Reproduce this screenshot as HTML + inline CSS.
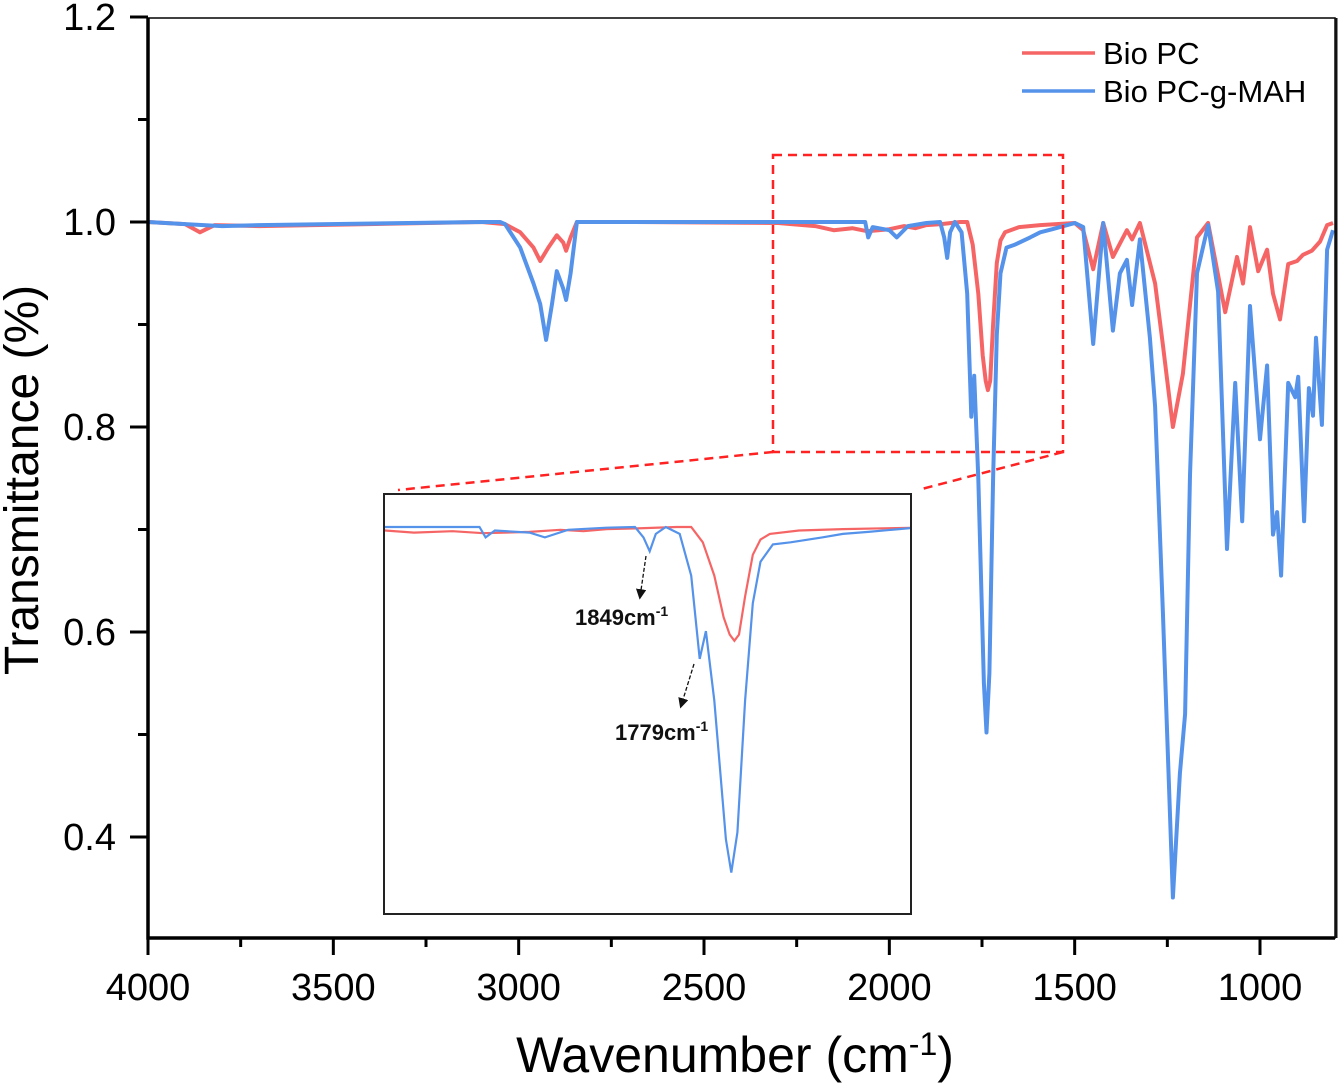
<!DOCTYPE html>
<html><head><meta charset="utf-8"><style>
html,body{margin:0;padding:0;background:#fff;}
svg{display:block;font-family:"Liberation Sans",Arial,sans-serif;}
</style></head><body>
<svg id="chart" width="1339" height="1084" viewBox="0 0 1339 1084">
<g id="grid"></g>
</svg>
<script>
// ---- data ----
const xTicks = [4000, 3500, 3000, 2500, 2000, 1500, 1000];
const yTicks = [0.4, 0.6, 0.8, 1.0, 1.2];
const seriesNames = ["Bio PC", "Bio PC-g-MAH"];
const redW = [4000,3900,3860,3820,3700,3100,3037,2996,2960,2942,2920,2897,2880,2872,2860,2843,2700,2300,2200,2150,2100,2060,2000,1960,1930,1900,1860,1809,1790,1775,1760,1748,1740,1734,1728,1720,1710,1700,1688,1650,1593,1500,1477,1450,1423,1397,1359,1345,1324,1283,1262,1235,1208,1170,1140,1094,1062,1046,1027,1005,981,965,946,924,900,884,860,838,819,803];
const redV = [1.0,0.998,0.99,0.997,0.996,1.0,0.998,0.99,0.975,0.962,0.975,0.987,0.98,0.972,0.985,1.0,1.0,0.999,0.996,0.992,0.994,0.991,0.993,0.996,0.994,0.997,0.998,1.0,1.0,0.978,0.93,0.87,0.845,0.836,0.845,0.9,0.96,0.982,0.99,0.995,0.997,0.999,0.992,0.954,0.999,0.966,0.992,0.983,0.999,0.94,0.88,0.80,0.852,0.985,0.999,0.912,0.966,0.94,0.995,0.952,0.973,0.93,0.905,0.959,0.962,0.968,0.972,0.981,0.997,0.999];
const blueW = [4000,3900,3800,3700,3100,3050,3037,2996,2960,2942,2926,2910,2897,2880,2872,2860,2843,2700,2300,2065,2057,2045,2000,1980,1950,1900,1863,1852,1844,1836,1823,1805,1790,1779,1771,1760,1745,1738,1730,1720,1710,1700,1684,1661,1620,1593,1560,1520,1499,1477,1450,1423,1397,1378,1359,1345,1324,1297,1283,1262,1235,1216,1202,1189,1170,1140,1113,1089,1067,1048,1027,1000,981,965,954,943,924,905,897,881,868,857,849,833,819,803];
const blueV = [1.0,0.998,0.996,0.997,1.0,1.0,0.998,0.975,0.94,0.92,0.885,0.92,0.952,0.935,0.924,0.95,1.0,1.0,1.0,1.0,0.985,0.995,0.992,0.985,0.996,0.999,1.0,0.985,0.965,0.99,1.0,0.99,0.93,0.81,0.85,0.75,0.55,0.502,0.56,0.75,0.89,0.95,0.975,0.978,0.985,0.99,0.993,0.997,0.999,0.995,0.881,0.999,0.894,0.95,0.963,0.919,0.983,0.887,0.82,0.619,0.341,0.462,0.52,0.753,0.95,0.997,0.932,0.681,0.843,0.708,0.918,0.788,0.86,0.695,0.717,0.655,0.843,0.829,0.849,0.708,0.838,0.811,0.887,0.802,0.973,0.992];

// ---- axes ----
const X0=148, XPX=0.37067;
const Y0=222, YPX=1025;
const sx = w => X0 + (4000 - w) * XPX;
const sy = v => Y0 + (1 - v) * YPX;
const ix = w => 384 + (2189 - w) * 0.77;
const iy = v => 527 + (1 - v) * 694;

const NS="http://www.w3.org/2000/svg";
const svg=document.getElementById('chart');
function mk(tag, attrs, parent){const e=document.createElementNS(NS,tag);for(const k in attrs)e.setAttribute(k,attrs[k]);(parent||svg).appendChild(e);return e;}
function pathFor(W,V,fx,fy){return W.map((w,i)=>(i?'L':'M')+fx(w).toFixed(1)+','+fy(V[i]).toFixed(1)).join('');}

const defs=mk('defs',{});
const cp=mk('clipPath',{id:'mainclip'},defs); mk('rect',{x:148,y:18,width:1187,height:920},cp);
const cp2=mk('clipPath',{id:'insetclip'},defs); mk('rect',{x:385,y:495,width:525,height:418},cp2);
defs.innerHTML+='<marker id="ah" markerWidth="8" markerHeight="8" refX="6" refY="4" orient="auto"><path d="M0,0L8,4L0,8z" fill="#111"/></marker>';

const colors=['#f66565','#5592ea'];
const gMain=mk('g',{'clip-path':'url(#mainclip)'});


const pr=mk('path',{d:pathFor(redW,redV,sx,sy),fill:'none',stroke:colors[0],'stroke-width':4,'stroke-linejoin':'round'},gMain);


const pb=mk('path',{d:pathFor(blueW,blueV,sx,sy),fill:'none',stroke:colors[1],'stroke-width':4,'stroke-linejoin':'round'},gMain);



const zr=mk('rect',{x:773,y:155,width:290,height:297,fill:'none',stroke:'#f22',"stroke-width":2.5,'stroke-dasharray':'9,6'});


const l1=mk('line',{x1:773,y1:452,x2:398,y2:490,stroke:'#f22','stroke-width':2.5,'stroke-dasharray':'9,6'});


const l2=mk('line',{x1:1063,y1:452,x2:918,y2:490,stroke:'#f22','stroke-width':2.5,'stroke-dasharray':'9,6'});



const ib=mk('rect',{x:384,y:494,width:527,height:420,fill:'#fff',stroke:'#222','stroke-width':2});


const gIn=mk('g',{'clip-path':'url(#insetclip)'});


const ir=mk('path',{d:pathFor(redW,redV,ix,iy),fill:'none',stroke:colors[0],'stroke-width':2.2},gIn);


const ibl=mk('path',{d:pathFor(blueW,blueV,ix,iy),fill:'none',stroke:colors[1],'stroke-width':2.2},gIn);



const a1=mk('line',{x1:646,y1:556,x2:640,y2:597,stroke:'#111','stroke-width':1.3,'stroke-dasharray':'4,2','marker-end':'url(#ah)'});


const a2=mk('line',{x1:694,y1:664,x2:681,y2:706,stroke:'#111','stroke-width':1.3,'stroke-dasharray':'4,2','marker-end':'url(#ah)'});


const t1=mk('text',{x:575,y:625,'font-size':22,'font-weight':'bold',fill:'#111'});
t1.innerHTML='1849cm<tspan dy="-9" font-size="14">-1</tspan>';


const t2=mk('text',{x:615,y:740,'font-size':22,'font-weight':'bold',fill:'#111'});
t2.innerHTML='1779cm<tspan dy="-9" font-size="14">-1</tspan>';



const fr=mk('path',{d:'M148,18H1335V938H148Z',fill:'none',stroke:'#000','stroke-width':1.5});


const ax=mk('path',{d:'M148,18V938H1335',fill:'none',stroke:'#000','stroke-width':3.5});


const rb=mk('line',{x1:1336,y1:18,x2:1336,y2:938,stroke:'#111','stroke-width':3});



xTicks.forEach(t=>{
  const x=sx(t);
  const tk=mk('line',{x1:x,y1:938,x2:x,y2:955,stroke:'#000','stroke-width':3});
  
  
  const lb=mk('text',{x:x,y:1000,'font-size':38,'text-anchor':'middle',fill:'#000'});
  lb.textContent=t;
  
  
  const m=t-250;
  if(sx(m)<1335){
    const mt=mk('line',{x1:sx(m),y1:938,x2:sx(m),y2:947,stroke:'#000','stroke-width':3});
    
    
  }
});
yTicks.forEach(t=>{
  const y=sy(t);
  const tk=mk('line',{x1:130,y1:y,x2:148,y2:y,stroke:'#000','stroke-width':3});
  
  
  const lb=mk('text',{x:116,y:y+13,'font-size':38,'text-anchor':'end',fill:'#000'});
  lb.textContent=t.toFixed(1);
  
  
  const m=t-0.1;
  if(sy(m)<938){
    const mt=mk('line',{x1:138,y1:sy(m),x2:148,y2:sy(m),stroke:'#000','stroke-width':3});
    
    
  }
});

const xt=mk('text',{x:735,y:1072,'font-size':50,'text-anchor':'middle',fill:'#000'});
xt.innerHTML='Wavenumber (cm<tspan dy="-17" font-size="32">-1</tspan><tspan dy="17">)</tspan>';


const yt=mk('text',{x:38,y:480,'font-size':48,'text-anchor':'middle',fill:'#000',transform:'rotate(-90 38 480)'});
yt.textContent='Transmittance (%)';



seriesNames.forEach((n,i)=>{
  const y=53+i*38;
  const ll=mk('line',{x1:1022,y1:y,x2:1095,y2:y,stroke:colors[i],'stroke-width':3.5});
  
  
  const lt=mk('text',{x:1103,y:y+11,'font-size':31,fill:'#000'});
  lt.textContent=n;
  
  
});
</script>
</body></html>
